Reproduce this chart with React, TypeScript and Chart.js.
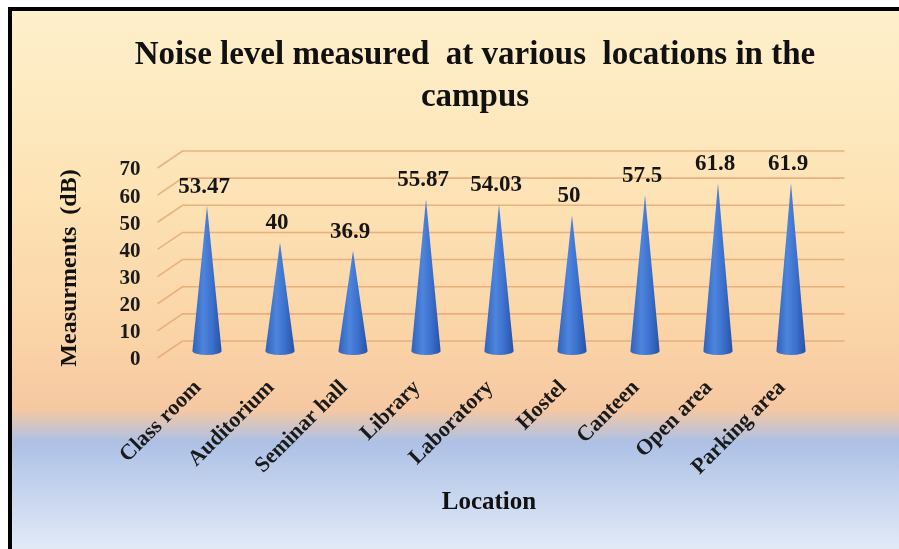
import React, { useEffect, useRef } from "react";
import { Chart, registerables } from "chart.js";

Chart.register(...registerables);

const categories = [
  "Class room",
  "Auditorium",
  "Seminar hall",
  "Library",
  "Laboratory",
  "Hostel",
  "Canteen",
  "Open area",
  "Parking area",
];
const noiseLevels = [53.47, 40, 36.9, 55.87, 54.03, 50, 57.5, 61.8, 61.9];
const valueLabels = ["53.47", "40", "36.9", "55.87", "54.03", "50", "57.5", "61.8", "61.9"];
const yMin = 0;
const yMax = 70;
const yStep = 10;
const titleLines = ["Noise level measured  at various  locations in the", "campus"];
const yTitle = "Measurments  (dB)";
const xTitle = "Location";

const SERIF = "'Liberation Serif', 'Times New Roman', serif";

const decorPlugin = {
  id: "decor",
  beforeDraw(chart: any) {
    const { ctx, width, height } = chart;
    ctx.save();
    ctx.fillStyle = "#ffffff";
    ctx.fillRect(0, 0, width, height);
    const g = ctx.createLinearGradient(0, 0, 0, height);
    g.addColorStop(0, "#FEF1CD");
    g.addColorStop(0.35, "#FDE3B5");
    g.addColorStop(0.62, "#FAD3A6");
    g.addColorStop(0.745, "#F6C8A2");
    g.addColorStop(0.805, "#ADC1E5");
    g.addColorStop(1, "#E2EAF7");
    ctx.fillStyle = g;
    ctx.fillRect(8, 7, width - 8, height - 7);
    ctx.fillStyle = "#000000";
    ctx.fillRect(8, 7, 4, height - 7);
    ctx.fillRect(8, 7, width - 8, 4);
    // titles
    ctx.fillStyle = "#111111";
    ctx.textAlign = "center";
    ctx.textBaseline = "alphabetic";
    ctx.font = `bold 33px ${SERIF}`;
    ctx.fillText(titleLines[0], 475, 64);
    ctx.fillText(titleLines[1], 475, 106);
    ctx.font = `bold 25px ${SERIF}`;
    ctx.textBaseline = "middle";
    ctx.fillText(xTitle, 489, 503);
    ctx.translate(70, 268);
    ctx.rotate(-Math.PI / 2);
    ctx.font = `bold 24px ${SERIF}`;
    ctx.fillText(yTitle, 0, 0);
    ctx.restore();
  },
  beforeDatasetsDraw(chart: any) {
    const { ctx } = chart;
    const ys = chart.scales.y;
    const area = chart.chartArea;
    const frontX = area.left - 13;
    const backX = area.left + 12;
    const rightX = area.right + 17;
    ctx.save();
    ctx.strokeStyle = "rgba(232,168,118,0.85)";
    ctx.lineWidth = 1.6;
    for (let v = yMin; v <= yMax; v += yStep) {
      const p = ys.getPixelForValue(v);
      ctx.beginPath();
      ctx.moveTo(frontX, p + 7);
      ctx.lineTo(backX, p - 10);
      ctx.lineTo(rightX, p - 10);
      ctx.stroke();
    }
    ctx.restore();
  },
  afterDatasetsDraw(chart: any) {
    const { ctx } = chart;
    const meta = chart.getDatasetMeta(0);
    ctx.save();
    meta.data.forEach((el: any, i: number) => {
      const x = el.x;
      const tip = el.y;
      const base = el.base;
      const r = el.width / 2;
      const ry = 4;
      const g = ctx.createLinearGradient(x - r, 0, x + r, 0);
      g.addColorStop(0, "#3162BC");
      g.addColorStop(0.38, "#4E85DC");
      g.addColorStop(0.7, "#3A6ECB");
      g.addColorStop(1, "#2752A4");
      ctx.beginPath();
      ctx.moveTo(x - r, base);
      ctx.lineTo(x, tip);
      ctx.lineTo(x + r, base);
      ctx.ellipse(x, base, r, ry, 0, 0, Math.PI, false);
      ctx.closePath();
      ctx.fillStyle = g;
      ctx.fill();
      ctx.fillStyle = "#151515";
      ctx.font = `bold 23px ${SERIF}`;
      ctx.textAlign = "center";
      ctx.textBaseline = "middle";
      ctx.fillText(valueLabels[i], x - 3, tip - 19);
    });
    ctx.restore();
  },
};

export default function App() {
  const ref = useRef<HTMLCanvasElement | null>(null);
  useEffect(() => {
    document.body.style.margin = "0";
    const canvas = ref.current;
    if (!canvas) return;
    const chart = new Chart(canvas, {
      type: "bar",
      data: {
        labels: categories,
        datasets: [
          {
            label: "Noise level (dB)",
            data: noiseLevels,
            backgroundColor: "rgba(0,0,0,0)",
            borderWidth: 0,
            categoryPercentage: 1,
            barPercentage: 0.4,
          },
        ],
      },
      options: {
        responsive: false,
        animation: false,
        devicePixelRatio: 1,
        layout: { padding: { left: 57, right: 71.5, top: 161, bottom: 0 } },
        plugins: {
          legend: { display: false },
          title: { display: false },
          tooltip: { enabled: false },
        },
        scales: {
          x: {
            grid: { display: false, drawTicks: false },
            border: { display: false },
            ticks: {
              font: { family: SERIF, size: 22, weight: "bold" },
              color: "#1a1a1a",
              minRotation: 45,
              maxRotation: 45,
              autoSkip: false,
              padding: 24,
              labelOffset: -9,
            },
            afterFit: (s: any) => {
              s.height = 198;
            },
          },
          y: {
            min: yMin,
            max: yMax,
            grid: { display: false, drawTicks: false },
            border: { display: false },
            ticks: {
              stepSize: yStep,
              autoSkip: false,
              font: { family: SERIF, size: 21, weight: "bold" },
              color: "#1a1a1a",
              padding: 30,
              labelOffset: 9,
            },
            afterFit: (s: any) => {
              s.width = 113.5;
            },
          },
        },
      },
      plugins: [decorPlugin],
    });
    return () => chart.destroy();
  }, []);
  return (
    <canvas
      ref={ref}
      width={899}
      height={549}
      style={{ display: "block", width: "899px", height: "549px" }}
    />
  );
}
